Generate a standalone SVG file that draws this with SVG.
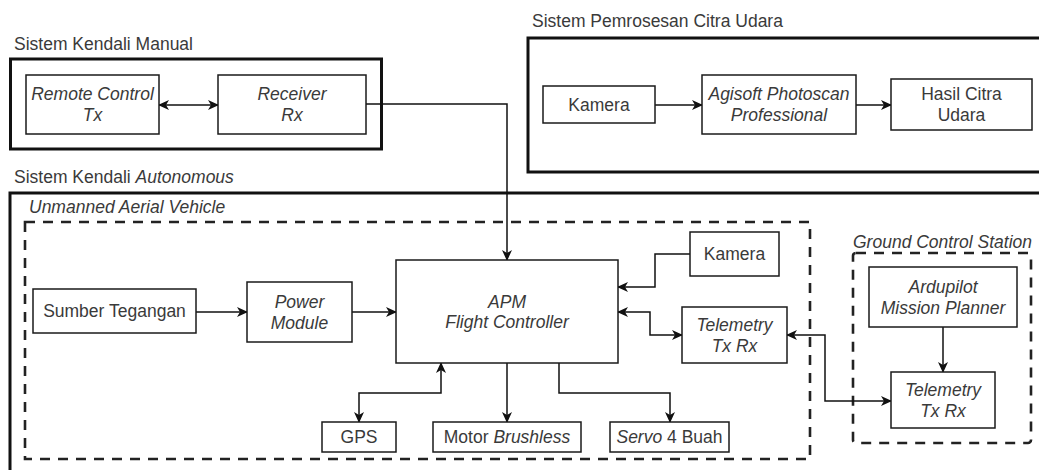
<svg xmlns="http://www.w3.org/2000/svg" width="1039" height="470" viewBox="0 0 1039 470">
<defs>
<style>
.box{fill:#fff;stroke:#1a1a1a;stroke-width:1.5}
.cont{fill:none;stroke:#111;stroke-width:3}
.dash{fill:none;stroke:#222;stroke-width:2.6;stroke-dasharray:10 8}
.t{font-family:"Liberation Sans",Arial,sans-serif;font-size:17.5px;fill:#3a3a3a}
.c{text-anchor:middle}
.i{font-style:italic}
.con{fill:none;stroke:#111;stroke-width:1.5}
</style>
<marker id="arr" viewBox="0 0 11 10" refX="10" refY="5" markerWidth="11" markerHeight="10" markerUnits="userSpaceOnUse" orient="auto-start-reverse">
<path d="M0,0 L11,5 L0,10 L3,5 Z" fill="#111"/>
</marker>
</defs>
<rect width="1039" height="470" fill="#fff"/>

<g id="containers">
<rect class="cont" x="10.5" y="59" width="371" height="90"/>
<text class="t" x="14" y="50">Sistem Kendali Manual</text>
<rect class="cont" x="528" y="38" width="530" height="134"/>
<text class="t" x="532" y="27">Sistem Pemrosesan Citra Udara</text>
<rect class="cont" x="10" y="193" width="1045" height="300"/>
<text class="t" x="14" y="183">Sistem Kendali <tspan class="i">Autonomous</tspan></text>
<rect class="dash" x="25" y="222" width="785" height="237"/>
<text class="t i" x="29" y="213">Unmanned Aerial Vehicle</text>
<rect class="dash" x="853" y="253" width="178" height="190" rx="3"/>
<text class="t i" x="853" y="248">Ground Control Station</text>
</g>

<g id="connectors">
<path class="con" d="M159,105 H218" marker-start="url(#arr)" marker-end="url(#arr)"/>
<path class="con" d="M366,104 H507 V260" marker-end="url(#arr)"/>
<path class="con" d="M655,105 H702" marker-end="url(#arr)"/>
<path class="con" d="M856,105 H891" marker-end="url(#arr)"/>
<path class="con" d="M196,312 H247" marker-end="url(#arr)"/>
<path class="con" d="M352,312 H396" marker-end="url(#arr)"/>
<path class="con" d="M441,363 V393 H359 V422" marker-start="url(#arr)" marker-end="url(#arr)"/>
<path class="con" d="M507,363 V422" marker-end="url(#arr)"/>
<path class="con" d="M559,363 V393 H670 V422" marker-end="url(#arr)"/>
<path class="con" d="M690,254 H655 V287 H618" marker-end="url(#arr)"/>
<path class="con" d="M618,312 H650 V335 H682" marker-start="url(#arr)" marker-end="url(#arr)"/>
<path class="con" d="M787,335 H825 V401 H891" marker-start="url(#arr)" marker-end="url(#arr)"/>
<path class="con" d="M943,327 V372" marker-end="url(#arr)"/>
</g>

<g id="remote">
<rect class="box" x="26" y="75" width="133" height="59"/>
<text class="t c i" x="92.5" y="99.5">Remote Control</text>
<text class="t c i" x="92.5" y="120.5">Tx</text>
</g>
<g id="receiver">
<rect class="box" x="218" y="75" width="148" height="59"/>
<text class="t c i" x="292" y="99.5">Receiver</text>
<text class="t c i" x="292" y="120.5">Rx</text>
</g>
<g id="kamera1">
<rect class="box" x="543" y="86" width="112" height="37"/>
<text class="t c" x="599" y="110.5">Kamera</text>
</g>
<g id="agisoft">
<rect class="box" x="702" y="75" width="154" height="59"/>
<text class="t c i" x="779" y="100">Agisoft Photoscan</text>
<text class="t c i" x="779" y="121">Professional</text>
</g>
<g id="hasil">
<rect class="box" x="891" y="79" width="141" height="51"/>
<text class="t c" x="961.5" y="100">Hasil Citra</text>
<text class="t c" x="961.5" y="121">Udara</text>
</g>
<g id="sumber">
<rect class="box" x="33" y="289" width="163" height="44"/>
<text class="t c" x="114.5" y="317">Sumber Tegangan</text>
</g>
<g id="power">
<rect class="box" x="247" y="282" width="105" height="60"/>
<text class="t c i" x="299.5" y="307.5">Power</text>
<text class="t c i" x="299.5" y="328.5">Module</text>
</g>
<g id="apm">
<rect class="box" x="396" y="260" width="222" height="103"/>
<text class="t c i" x="507" y="307.5">APM</text>
<text class="t c i" x="507" y="328">Flight Controller</text>
</g>
<g id="gps">
<rect class="box" x="322" y="422" width="74" height="30"/>
<text class="t c" x="359" y="443">GPS</text>
</g>
<g id="motor">
<rect class="box" x="433" y="422" width="148" height="30"/>
<text class="t c" x="507" y="443">Motor <tspan class="i">Brushless</tspan></text>
</g>
<g id="servo">
<rect class="box" x="610" y="422" width="119" height="30"/>
<text class="t c" x="669.5" y="443"><tspan class="i">Servo</tspan> 4 Buah</text>
</g>
<g id="kamera2">
<rect class="box" x="690" y="232" width="89" height="44"/>
<text class="t c" x="734.5" y="260">Kamera</text>
</g>
<g id="telemetry-uav">
<rect class="box" x="682" y="307" width="105" height="56"/>
<text class="t c i" x="734.5" y="330.5">Telemetry</text>
<text class="t c i" x="734.5" y="351.5">Tx Rx</text>
</g>
<g id="ardupilot">
<rect class="box" x="869" y="267" width="148" height="60"/>
<text class="t c i" x="943" y="292.5">Ardupilot</text>
<text class="t c i" x="943" y="313.5">Mission Planner</text>
</g>
<g id="telemetry-gcs">
<rect class="box" x="891" y="372" width="104" height="56"/>
<text class="t c i" x="943" y="395.5">Telemetry</text>
<text class="t c i" x="943" y="416.5">Tx Rx</text>
</g>
</svg>
